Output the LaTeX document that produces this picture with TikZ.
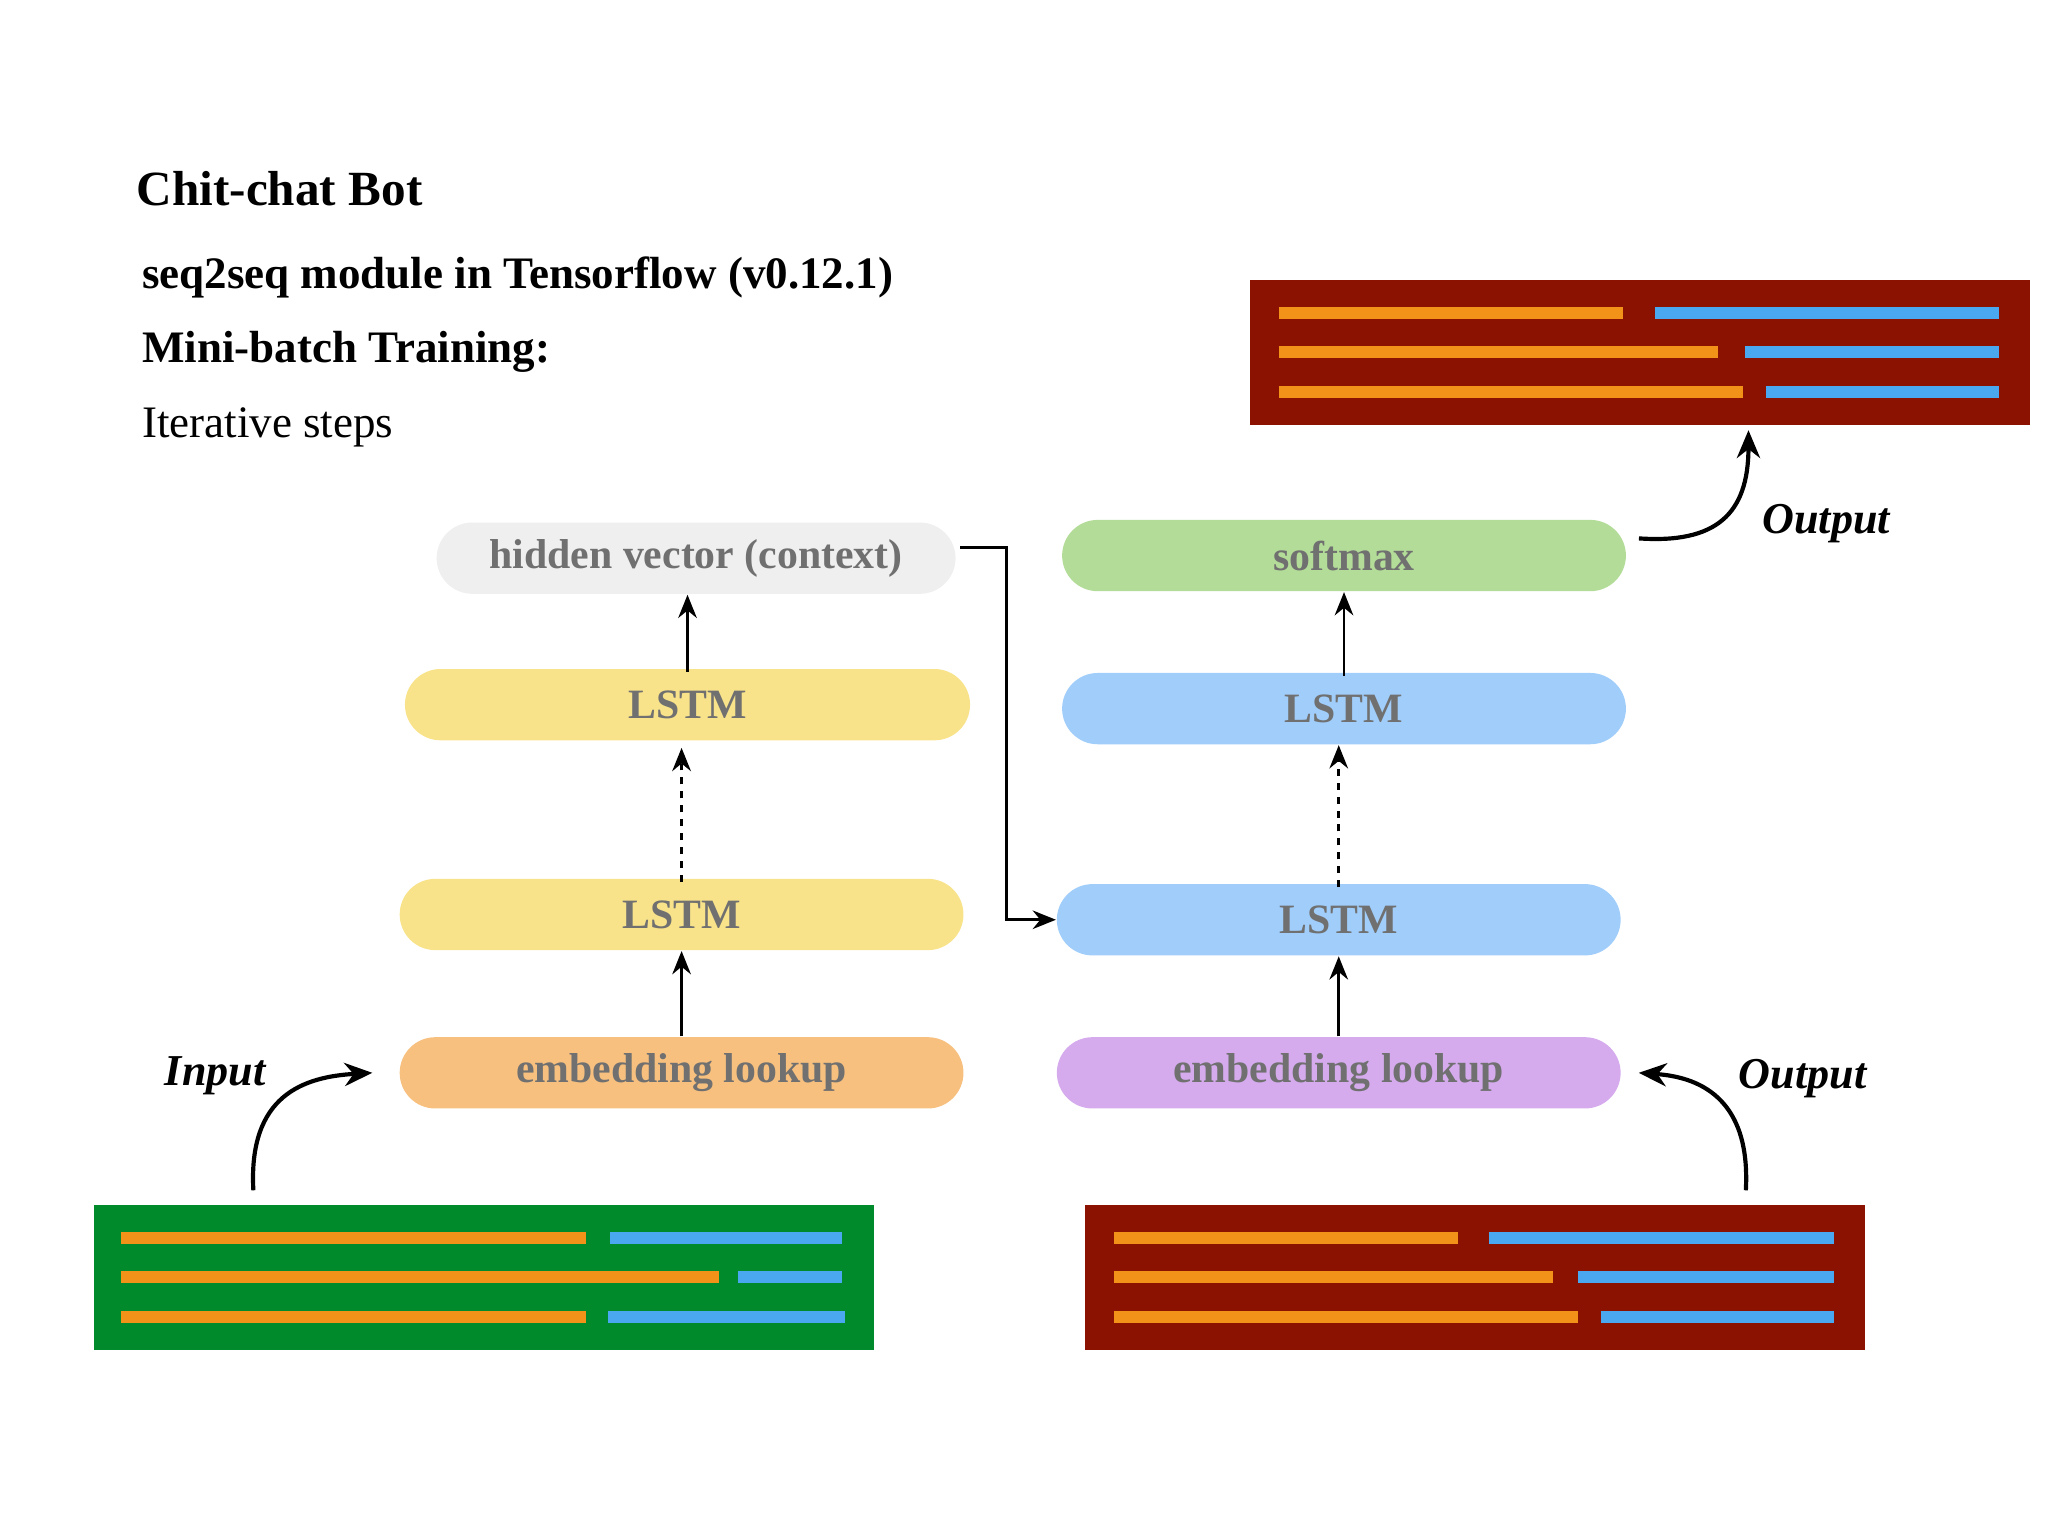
\documentclass[tikz,border=0pt]{standalone}
\usepackage{fontspec}
\setmainfont{Liberation Serif}
\usetikzlibrary{arrows.meta}
\definecolor{txt}{HTML}{707070}
\definecolor{hid}{HTML}{EFEFEF}
\definecolor{smx}{HTML}{B3DC98}
\definecolor{yel}{HTML}{F8E38A}
\definecolor{blu}{HTML}{A0CDFA}
\definecolor{org}{HTML}{F7C07F}
\definecolor{pur}{HTML}{D5ABEE}
\definecolor{dred}{HTML}{8B1200}
\definecolor{dgrn}{HTML}{008A2C}
\definecolor{bor}{HTML}{F39219}
\definecolor{bbl}{HTML}{4AA8F0}
\begin{document}
\begin{tikzpicture}[x=0.01cm,y=-0.01cm,
  pill/.style={rounded corners=0.27cm, minimum height=0.54cm, inner sep=0pt, text=txt, font=\fontsize{9}{11}\selectfont\bfseries},
  ar/.style={-{Stealth[length=5pt,width=4pt]}, line width=0.6pt},
  dar/.style={ar, dash pattern=on 1.5pt off 1.5pt, line width=0.7pt},
  car/.style={-{Stealth[length=6pt,width=5pt]}, line width=0.9pt},
  ttl/.style={anchor=west, inner sep=0pt},
  lab/.style={font=\fontsize{9.5}{12}\selectfont\bfseries\itshape},
  bar/.style={line width=0.09cm}]
\useasboundingbox (0,0) rectangle (1552,1164);
\node[ttl,font=\fontsize{10.6}{13}\selectfont\bfseries] at (103,143) {Chit-chat Bot};
\node[ttl,font=\fontsize{9.7}{12}\selectfont\bfseries] at (107,210) {seq2seq module in Tensorflow (v0.12.1)};
\node[ttl,font=\fontsize{9.7}{12}\selectfont\bfseries] at (107,267) {Mini-batch Training:};
\node[ttl,font=\fontsize{9.7}{12}\selectfont] at (107,324) {Iterative steps};

\node[pill,fill=hid,minimum width=3.93cm] (hid) at (527.5,423) {hidden vector (context)};
\node[pill,fill=smx,minimum width=4.27cm] (smx) at (1018.5,421) {softmax};
\node[pill,fill=yel,minimum width=4.28cm] (el2) at (521,534) {LSTM};
\node[pill,fill=blu,minimum width=4.27cm] (dl2) at (1018.5,537) {LSTM};
\node[pill,fill=yel,minimum width=4.27cm] (el1) at (516.5,693) {LSTM};
\node[pill,fill=blu,minimum width=4.27cm] (dl1) at (1014.5,697) {LSTM};
\node[pill,fill=org,minimum width=4.27cm] (ee) at (516.5,813) {embedding lookup};
\node[pill,fill=pur,minimum width=4.27cm] (de) at (1014.5,813) {embedding lookup};

\draw[ar] (ee.north) -- (el1.south);
\draw[dar] ([yshift=-0.03cm]el1.north) -- ([yshift=-0.05cm]el2.south -| el1.north);
\draw[ar] ([yshift=-0.03cm]el2.north) -- (hid.south -| el2.north);
\draw[ar] (de.north) -- (dl1.south);
\draw[dar] ([yshift=-0.03cm]dl1.north) -- (dl2.south -| dl1.north);
\draw[ar] ([yshift=-0.03cm]dl2.north) -- (smx.south -| dl2.north);
\draw[ar] ([shift={(0.03cm,0.08cm)}]hid.east) -- ++(35,0) |- (dl1.west);

% boxes
\fill[dred] (947,212) rectangle (1538,322);
\draw[bar,bor] (969,237)--(1230,237) (969,267)--(1302,267) (969,297)--(1321,297);
\draw[bar,bbl] (1254,237)--(1515,237) (1322,267)--(1515,267) (1338,297)--(1515,297);
\fill[dgrn] (71,913) rectangle (662,1023);
\draw[bar,bor] (92,938)--(444,938) (92,968)--(545,968) (92,998)--(444,998);
\draw[bar,bbl] (462,938)--(638,938) (559,968)--(638,968) (461,998)--(640,998);
\fill[dred] (822,913) rectangle (1413,1023);
\draw[bar,bor] (844,938)--(1105,938) (844,968)--(1177,968) (844,998)--(1196,998);
\draw[bar,bbl] (1128,938)--(1390,938) (1196,968)--(1390,968) (1213,998)--(1390,998);

\coordinate (i0) at (192,902);
\coordinate (o0) at (1323,902);
\coordinate (t0) at (1242,408);
\coordinate (t1) at (1325,326);
\draw[car] (i0) .. controls (188,830) and (230,816) .. ([xshift=-0.2cm]ee.west);
\draw[car] (o0) .. controls (1327,830) and (1285,816) .. ([xshift=0.13cm]de.east);
\draw[car] (t0) .. controls (1300,412) and (1325,390) .. (t1);
\node[lab] at (163,815) {Input};
\node[lab] at (1366,817) {Output};
\node[lab] at (1384,397) {Output};
\end{tikzpicture}
\end{document}
